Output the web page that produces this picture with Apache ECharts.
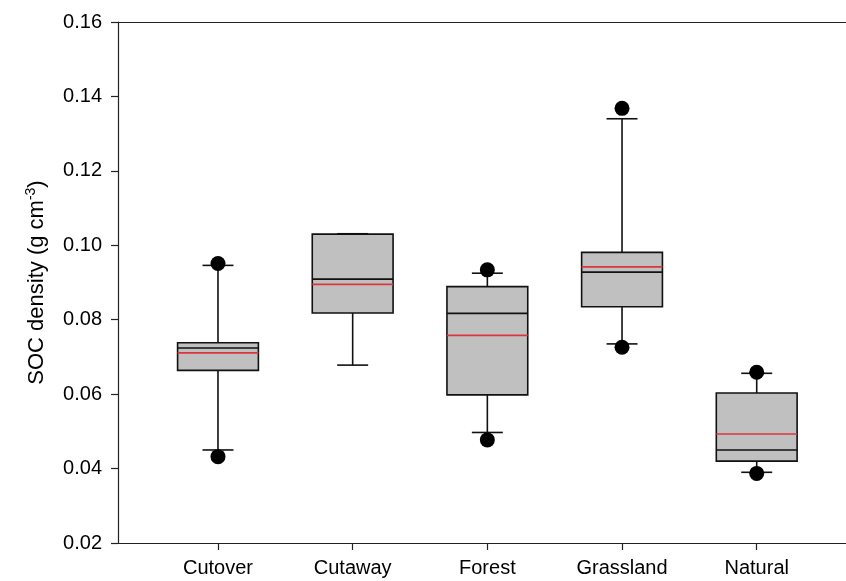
<!DOCTYPE html>
<html>
<head>
<meta charset="utf-8">
<script src="https://cdn.jsdelivr.net/npm/echarts@6/dist/echarts.min.js"></script>
<style>html,body{margin:0;padding:0;background:#fff}#c{width:846px;height:581px}</style>
</head>
<body>
<div id="c"></div>
<script>
var categories = ['Cutover', 'Cutaway', 'Forest', 'Grassland', 'Natural'];
var whiskerLow  = [0.0450, 0.0678, 0.0497, 0.0735, 0.0390];
var q1          = [0.0664, 0.0818, 0.0598, 0.0835, 0.0420];
var median      = [0.0724, 0.0909, 0.0817, 0.0928, 0.0450];
var mean        = [0.0711, 0.0895, 0.0758, 0.0942, 0.0493];
var q3          = [0.0738, 0.1030, 0.0889, 0.0981, 0.0603];
var whiskerHigh = [0.0946, 0.1031, 0.0925, 0.1340, 0.0656];
// outliers: [category index, value]
var outliers = [[0, 0.0951], [0, 0.0432], [2, 0.0934], [2, 0.0477], [3, 0.1368], [3, 0.0726], [4, 0.0659], [4, 0.0387]];
var yTicks = [0.02, 0.04, 0.06, 0.08, 0.10, 0.12, 0.14, 0.16];

var FONT = '"Liberation Sans", Arial, sans-serif';
var boxData = categories.map(function (c, i) {
  return [i + 1, whiskerLow[i], q1[i], median[i], q3[i], whiskerHigh[i], mean[i]];
});
var dotData = outliers.map(function (o) { return [o[0] + 1, o[1]]; });

var chart = echarts.init(document.getElementById('c'));
chart.setOption({
  animation: false,
  backgroundColor: '#fff',
  grid: { left: 118, right: 0, top: 22, bottom: 38 },
  xAxis: [{
    type: 'value', min: 0.2576, max: 5.663,
    splitLine: { show: false },
    axisLine: { show: true, lineStyle: { color: '#222', width: 1.2 } },
    axisTick: { show: true, length: 7, customValues: [1, 2, 3, 4, 5], lineStyle: { color: '#222', width: 1.2 } },
    axisLabel: {
      customValues: [1, 2, 3, 4, 5], margin: 15,
      fontFamily: FONT, fontSize: 20, color: '#000',
      formatter: function (v) { return categories[Math.round(v) - 1] || ''; }
    }
  }, {
    type: 'value', min: 0.2576, max: 5.663, position: 'top',
    splitLine: { show: false },
    axisLine: { show: true, lineStyle: { color: '#222', width: 1.2 } },
    axisTick: { show: false }, axisLabel: { show: false }
  }],
  yAxis: {
    type: 'value', min: 0.02, max: 0.16, interval: 0.02,
    splitLine: { show: false },
    axisLine: { show: true, lineStyle: { color: '#222', width: 1.2 } },
    axisTick: { show: true, length: 7, lineStyle: { color: '#222', width: 1.2 } },
    axisLabel: {
      margin: 16, fontFamily: FONT, fontSize: 20, color: '#000',
      formatter: function (v) { return v.toFixed(2); }
    },
    name: '{a|SOC density (g cm}{s|-3}{a|)}',
    nameLocation: 'middle', nameGap: 68, nameRotate: 90,
    nameTextStyle: {
      fontFamily: FONT, color: '#000',
      rich: {
        a: { fontFamily: FONT, fontSize: 22, color: '#000' },
        s: { fontFamily: FONT, fontSize: 14, color: '#000', verticalAlign: 'top', padding: [0, 0, 12, 0] }
      }
    }
  },
  series: [{
    type: 'custom',
    data: boxData,
    encode: { x: 0, y: [1, 2, 3, 4, 5] },
    renderItem: function (params, api) {
      var x = api.value(0);
      var band = api.size([1, 0])[0];
      var bw = band * 0.6, cw = band * 0.23;
      var px = api.coord([x, 0])[0];
      var y = function (idx) { return api.coord([x, api.value(idx)])[1]; };
      var yLo = y(1), yQ1 = y(2), yMed = y(3), yQ3 = y(4), yHi = y(5), yMean = y(6);
      var ls = { stroke: '#111', lineWidth: 1.6 };
      return {
        type: 'group',
        children: [
          { type: 'line', shape: { x1: px, y1: yQ3, x2: px, y2: yHi }, style: ls },
          { type: 'line', shape: { x1: px, y1: yQ1, x2: px, y2: yLo }, style: ls },
          { type: 'line', shape: { x1: px - cw / 2, y1: yHi, x2: px + cw / 2, y2: yHi }, style: ls },
          { type: 'line', shape: { x1: px - cw / 2, y1: yLo, x2: px + cw / 2, y2: yLo }, style: ls },
          { type: 'rect', shape: { x: px - bw / 2, y: yQ3, width: bw, height: yQ1 - yQ3 }, style: { fill: '#c0c0c0', stroke: '#111', lineWidth: 1.6 } },
          { type: 'line', shape: { x1: px - bw / 2, y1: yMed, x2: px + bw / 2, y2: yMed }, style: ls },
          { type: 'line', shape: { x1: px - bw / 2, y1: yMean, x2: px + bw / 2, y2: yMean }, style: { stroke: '#d9363e', lineWidth: 1.6 } }
        ]
      };
    },
    z: 2
  }, {
    type: 'scatter',
    data: dotData,
    symbol: 'circle', symbolSize: 15,
    itemStyle: { color: '#000', opacity: 1 },
    z: 3
  }]
});
</script>
</body>
</html>
